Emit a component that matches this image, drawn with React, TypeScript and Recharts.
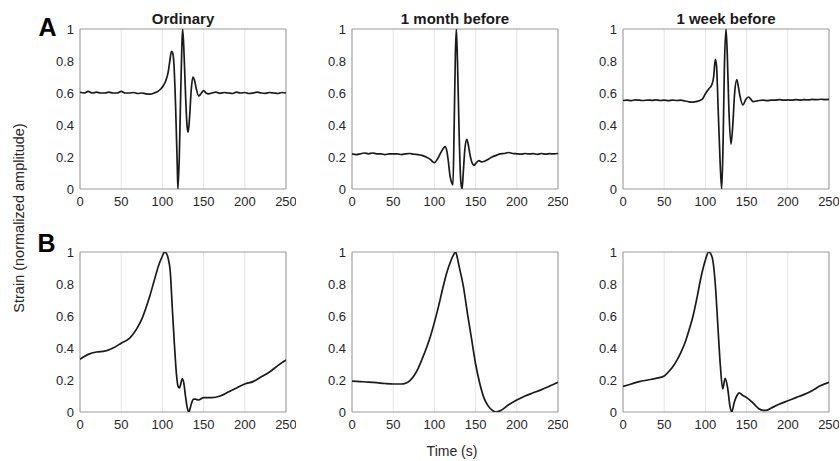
import React from "react";
import { LineChart, Line, XAxis, YAxis, CartesianGrid, ReferenceArea } from "recharts";

const xTicks = [0, 50, 100, 150, 200, 250];
const yTicks = [0, 0.2, 0.4, 0.6, 0.8, 1];
const titles = ["Ordinary", "1 month before", "1 week before"];

const a1T = [0,5,10,15,20,25,30,35,40,45,50,55,60,65,70,75,80,85,90,95,98,101,104,107,109,111,112.5,114,116,118,118.8,120.5,122,123.5,124.5,126,128,130,131.3,133,135,137,139,141,144,147,150,153,156,160,165,170,175,180,185,190,195,200,205,210,215,220,225,230,235,240,245,250];
const a1V = [0.605,0.6,0.61,0.6,0.605,0.6,0.6,0.605,0.6,0.6,0.61,0.6,0.6,0.603,0.597,0.6,0.595,0.593,0.6,0.612,0.625,0.645,0.675,0.73,0.8,0.86,0.85,0.78,0.52,0.15,0.0,0.2,0.55,0.87,1.0,0.88,0.6,0.39,0.355,0.45,0.62,0.7,0.68,0.63,0.582,0.597,0.615,0.6,0.595,0.6,0.605,0.598,0.603,0.6,0.597,0.605,0.6,0.603,0.597,0.6,0.605,0.6,0.598,0.603,0.6,0.597,0.603,0.6];

const a2T = [0,5,10,15,20,25,30,35,40,45,50,55,60,65,70,75,80,85,90,95,100,104,108,111,113,115,117,119,121,122.5,124,125.5,126.6,128,130,132,133.6,135,137,139.3,141,143,146,148,151,154,157,160,165,170,175,180,185,190,195,200,205,210,215,220,225,230,235,240,245,250];
const a2V = [0.22,0.215,0.22,0.225,0.22,0.225,0.22,0.22,0.215,0.22,0.22,0.22,0.215,0.22,0.222,0.217,0.215,0.21,0.2,0.185,0.165,0.19,0.23,0.255,0.265,0.24,0.17,0.08,0.04,0.025,0.4,0.85,1.0,0.8,0.35,0.05,0.0,0.1,0.25,0.31,0.28,0.22,0.16,0.148,0.165,0.177,0.17,0.172,0.185,0.2,0.21,0.22,0.222,0.228,0.222,0.22,0.218,0.222,0.219,0.221,0.217,0.222,0.218,0.221,0.219,0.222];

const a3T = [0,5,10,15,20,25,30,35,40,45,50,55,60,65,70,75,80,85,90,96,100,104,108,110,112,113.5,115.5,118,119.8,121.5,123,125,126.5,128.5,131,133,135.5,138,140,142,145.5,149,152.4,155,158,162,165,170,175,180,185,190,195,200,205,210,215,220,225,230,235,240,245,250];
const a3V = [0.553,0.555,0.552,0.557,0.555,0.553,0.556,0.554,0.557,0.553,0.555,0.552,0.556,0.553,0.555,0.55,0.545,0.543,0.548,0.56,0.595,0.625,0.655,0.7,0.81,0.77,0.5,0.15,0.0,0.3,0.75,1.0,0.85,0.5,0.28,0.38,0.6,0.683,0.64,0.58,0.525,0.56,0.575,0.562,0.546,0.55,0.553,0.555,0.552,0.556,0.555,0.558,0.555,0.557,0.555,0.558,0.556,0.558,0.557,0.56,0.558,0.561,0.559,0.56];

const b1T = [0,10,20,30,40,50,60,65,70,75,80,85,90,95,100,102.5,105,107,109.5,112,114.5,117,119,120.6,122,124,126,128,130,132,134,136,138,140,144,150,160,170,180,190,200,210,220,230,240,250];
const b1V = [0.33,0.36,0.375,0.38,0.4,0.43,0.46,0.49,0.53,0.58,0.65,0.73,0.82,0.91,0.975,1.0,0.99,0.96,0.88,0.65,0.43,0.24,0.16,0.15,0.17,0.207,0.18,0.1,0.03,0.0,0.03,0.065,0.08,0.08,0.075,0.09,0.09,0.1,0.125,0.15,0.175,0.19,0.22,0.25,0.29,0.325];

const b2T = [0,10,20,30,40,50,60,65,70,75,80,85,90,95,100,105,110,115,120,123,125.7,128,130,135,140,145,150,155,160,165,170,175,180,190,200,210,220,230,240,250];
const b2V = [0.193,0.19,0.187,0.183,0.178,0.175,0.175,0.18,0.195,0.225,0.27,0.33,0.395,0.47,0.56,0.66,0.77,0.87,0.945,0.98,1.0,0.96,0.91,0.79,0.62,0.46,0.3,0.18,0.09,0.04,0.012,0.0,0.008,0.045,0.075,0.1,0.12,0.14,0.163,0.185];

const b3T = [0,10,20,30,40,50,55,60,65,70,75,80,85,90,95,100,104,108,112,115,118,121,124,127,130,132,135,138,141,145,150,155,160,165,170,175,180,190,200,210,220,230,240,250];
const b3V = [0.16,0.175,0.19,0.2,0.21,0.225,0.25,0.28,0.32,0.37,0.43,0.51,0.6,0.72,0.85,0.95,1.0,0.97,0.8,0.55,0.3,0.145,0.21,0.15,0.03,0.0,0.06,0.1,0.12,0.105,0.09,0.07,0.045,0.02,0.01,0.012,0.025,0.05,0.07,0.09,0.11,0.135,0.165,0.185];

const zip = (t: number[], v: number[]) => t.map((x, i) => ({ t: x, v: v[i] }));

const FONT = '"Liberation Sans", Arial, Helvetica, sans-serif';
const colLefts = [80, 352, 623];
const rowTops = [29, 252];
const PW = 206;
const PH = 160;
const ML = 45;
const MT = 10;

function Panel({ data, left, top }: { data: { t: number; v: number }[]; left: number; top: number }) {
  const w = ML + PW + 10;
  const h = MT + PH + 30;
  return (
    <div style={{ position: "absolute", left: left - ML, top: top - MT }}>
      <LineChart width={w} height={h} data={data} margin={{ top: MT, right: 10, bottom: 5, left: 5 }}>
        <CartesianGrid horizontal={false} stroke="#e6e6e6" />
        <XAxis
          dataKey="t"
          type="number"
          domain={[0, 250]}
          ticks={xTicks}
          allowDataOverflow
          axisLine={false}
          tickLine={false}
          height={25}
          tick={{ fill: "#262626", fontSize: 13, fontFamily: FONT }}
        />
        <YAxis
          type="number"
          domain={[0, 1]}
          ticks={yTicks}
          allowDataOverflow
          axisLine={false}
          tickLine={false}
          width={40}
          tickMargin={0}
          tick={{ fill: "#262626", fontSize: 13, fontFamily: FONT }}
          tickFormatter={(v: number) => String(v)}
        />
        <ReferenceArea x1={0} x2={250} y1={0} y2={1} fill="none" fillOpacity={0} stroke="#9a9a9a" strokeWidth={1} />
        <Line
          dataKey="v"
          type="monotone"
          stroke="#1a1a1a"
          strokeWidth={1.7}
          dot={false}
          isAnimationActive={false}
        />
      </LineChart>
    </div>
  );
}

export default function App() {
  const rows = [
    [zip(a1T, a1V), zip(a2T, a2V), zip(a3T, a3V)],
    [zip(b1T, b1V), zip(b2T, b2V), zip(b3T, b3V)],
  ];
  return (
    <div style={{ position: "absolute", left: 0, top: 0, width: 840, height: 461, background: "#fff", fontFamily: FONT }}>
      {rows.map((r, ri) =>
        r.map((d, ci) => <Panel key={ri + "-" + ci} data={d} left={colLefts[ci]} top={rowTops[ri]} />)
      )}
      <svg width={840} height={461} style={{ position: "absolute", left: 0, top: 0, pointerEvents: "none" }}>
        {titles.map((t, i) => (
          <text key={t} x={colLefts[i] + PW / 2} y={23.5} textAnchor="middle" fontFamily={FONT} fontSize={15} fontWeight="bold" fill="#1a1a1a">
            {t}
          </text>
        ))}
        <text x={47.5} y={36} textAnchor="middle" fontFamily={FONT} fontSize={25} fontWeight="bold" fill="#000">A</text>
        <text x={46.5} y={252} textAnchor="middle" fontFamily={FONT} fontSize={25} fontWeight="bold" fill="#000">B</text>
        <text x={24} y={218} transform="rotate(-90 24 218)" textAnchor="middle" fontFamily={FONT} fontSize={14.5} fill="#262626">
          Strain (normalized amplitude)
        </text>
        <text x={452} y={456} textAnchor="middle" fontFamily={FONT} fontSize={14} fill="#262626">Time (s)</text>
      </svg>
    </div>
  );
}
